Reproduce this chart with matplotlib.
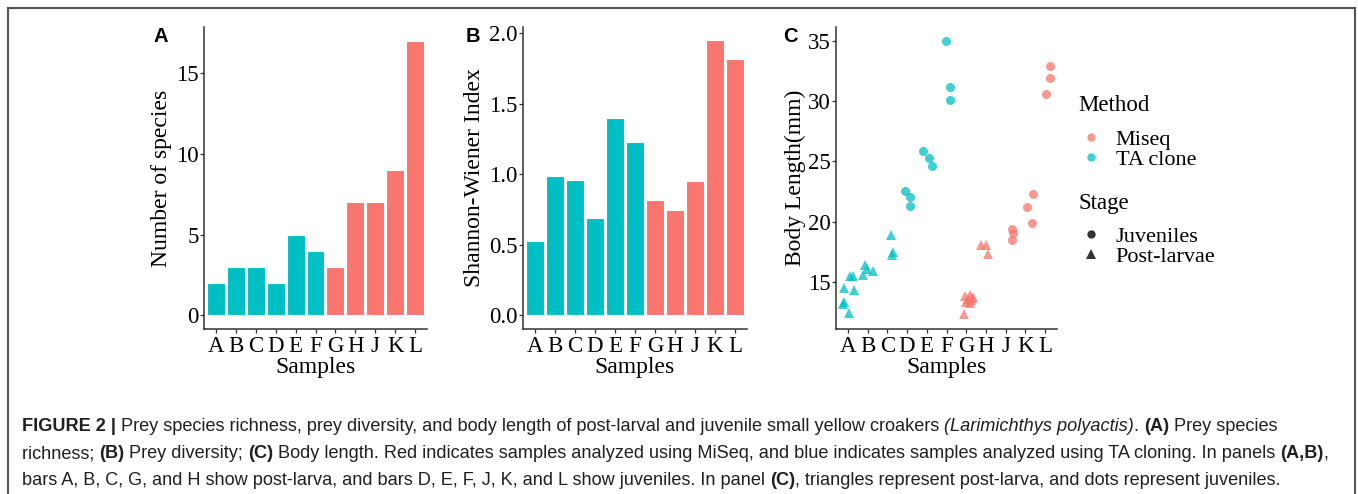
import matplotlib
matplotlib.use("Agg")
import matplotlib.pyplot as plt
from matplotlib.lines import Line2D
import numpy as np

# ---- data ----
samples = ['A', 'B', 'C', 'D', 'E', 'F', 'G', 'H', 'J', 'K', 'L']
richness = [2, 3, 3, 2, 5, 4, 3, 7, 7, 9, 17]
shannon = [0.53, 0.99, 0.96, 0.69, 1.40, 1.23, 0.82, 0.75, 0.95, 1.95, 1.82]
method = ['TA clone'] * 6 + ['Miseq'] * 5
stage = ['Post-larvae', 'Post-larvae', 'Post-larvae', 'Juveniles', 'Juveniles', 'Juveniles',
         'Post-larvae', 'Post-larvae', 'Juveniles', 'Juveniles', 'Juveniles']

# body length per fish (sample, horizontal jitter, length in mm)
bl_sample = (['A'] * 7 + ['B'] * 4 + ['C'] * 3 + ['D'] * 3 + ['E'] * 3 + ['F'] * 3
             + ['G'] * 9 + ['H'] * 3 + ['J'] * 3 + ['K'] * 3 + ['L'] * 3)
bl_jitter = [0.12, 0.26, -0.18, 0.32, -0.18, -0.22, 0.04,
             -0.12, -0.04, -0.21, 0.27,
             0.19, 0.27, 0.22,
             -0.10, 0.15, 0.15,
             -0.18, 0.13, 0.28,
             -0.05, 0.20, 0.19,
             -0.05, 0.18, 0.30, 0.10, -0.02, 0.20, 0.35, 0.25, -0.10,
             -0.23, -0.01, 0.11,
             0.34, 0.37, 0.34,
             0.10, 0.40, 0.31,
             0.26, 0.22, 0.05]
bl_length = [15.5, 15.5, 14.55, 14.36, 13.4, 13.2, 12.43,
             16.43, 16.08, 15.6, 15.93,
             18.92, 17.53, 17.26,
             22.58, 22.03, 21.34,
             25.87, 25.32, 24.63,
             35.0, 31.19, 30.09,
             13.9, 13.95, 13.7, 13.6, 13.4, 13.3, 13.75, 13.5, 12.37,
             18.09, 18.09, 17.34,
             19.39, 19.06, 18.48,
             21.21, 22.33, 19.93,
             32.93, 31.94, 30.59]

colors = {'Miseq': '#F8766D', 'TA clone': '#00BFC4'}
shapes = {'Juveniles': 'o', 'Post-larvae': '^'}

serif = ['Liberation Serif', 'DejaVu Serif']
plt.rcParams['font.family'] = serif

W, H = 1358, 494
fig = plt.figure(figsize=(W / 100, H / 100), dpi=100)


def px_axes(left, right, top, bottom):
    return fig.add_axes([left / W, 1 - bottom / H, (right - left) / W, (bottom - top) / H])


def style(ax, ylabel, ylab_x):
    for s in ['top', 'right']:
        ax.spines[s].set_visible(False)
    for s in ['left', 'bottom']:
        ax.spines[s].set_color('#333333')
        ax.spines[s].set_linewidth(1.1)
    ax.tick_params(axis='both', length=3, width=0.9, color='#333333',
                   labelsize=16.5, labelcolor='black')
    ax.tick_params(axis='y', pad=1)
    ax.tick_params(axis='x', pad=2)
    ax.set_xticks(range(len(samples)))
    ax.set_xticklabels(samples)
    ax.set_xlim(-0.6, len(samples) - 0.4)
    ax.set_xlabel('Samples', fontsize=17)
    ax.xaxis.set_label_coords(0.5, -0.128)
    ax.xaxis.label.set_va('center')
    ax.set_ylabel(ylabel, fontsize=17)
    ax.yaxis.set_label_coords(ylab_x, 0.5)
    ax.yaxis.label.set_va('center')


x = np.arange(len(samples))
bar_cols = [colors[m] for m in method]

# panel A
axA = px_axes(204, 427, 27, 329)
axA.bar(x, richness, width=0.9, color=bar_cols, edgecolor='white', linewidth=0.8)
axA.set_ylim(-0.85, 17.87)
axA.set_yticks([0, 5, 10, 15])
style(axA, 'Number of species', -0.19)

# panel B
axB = px_axes(523, 747, 27, 329)
axB.bar(x, shannon, width=0.9, color=bar_cols, edgecolor='white', linewidth=0.8)
axB.set_ylim(-0.097, 2.045)
axB.set_yticks([0, 0.5, 1.0, 1.5, 2.0])
axB.set_yticklabels(['0.0', '0.5', '1.0', '1.5', '2.0'])
style(axB, 'Shannon-Wiener Index', -0.216)

# panel C
axC = px_axes(836, 1057, 27, 329)
idx = {s: i for i, s in enumerate(samples)}
for s, j, v in zip(bl_sample, bl_jitter, bl_length):
    i = idx[s]
    mk = shapes[stage[i]]
    axC.plot(i + j, v, marker=mk, linestyle='none', color=colors[method[i]],
             alpha=0.75, markersize=7.5 if mk == '^' else 6.5, markeredgewidth=0)
axC.set_ylim(11.13, 36.13)
axC.set_yticks([15, 20, 25, 30, 35])
style(axC, 'Body Length(mm)', -0.184)

# panel letters
for lx, lab in [(153, 'A'), (466, 'B'), (783, 'C')]:
    fig.text(lx / W, 1 - 36 / H, lab, fontsize=14.5, fontweight='bold',
             family=['Liberation Sans', 'DejaVu Sans'], va='center', ha='left')

# legends: titles as text, keys as legends
fig.text(1078 / W, 1 - 105 / H, 'Method', fontsize=16.5, va='center', ha='left')
fig.text(1078 / W, 1 - 203 / H, 'Stage', fontsize=16.5, va='center', ha='left')
m_handles = [Line2D([], [], marker='o', linestyle='none', color=colors[m], alpha=0.75,
                    markersize=6, markeredgewidth=0) for m in ['Miseq', 'TA clone']]
fig.legend(m_handles, ['Miseq', 'TA clone'], loc='upper left',
           bbox_to_anchor=(1080 / W, 1 - 129 / H), frameon=False, fontsize=16,
           borderpad=0, borderaxespad=0, labelspacing=0.0,
           handlelength=1.0, handletextpad=0.6)
s_handles = [Line2D([], [], marker=shapes[s], linestyle='none', color='#333333',
                    markersize=6.5 if s == 'Post-larvae' else 6, markeredgewidth=0)
             for s in ['Juveniles', 'Post-larvae']]
fig.legend(s_handles, ['Juveniles', 'Post-larvae'], loc='upper left',
           bbox_to_anchor=(1080 / W, 1 - 226 / H), frameon=False, fontsize=16,
           borderpad=0, borderaxespad=0, labelspacing=0.0,
           handlelength=1.0, handletextpad=0.6)

# border (open at the bottom)
for xs, ys in [([8, 8], [H, 8.5]), ([8, 1355], [8.5, 8.5]), ([1355, 1355], [8.5, H])]:
    fig.add_artist(Line2D([v / W for v in xs], [1 - v / H for v in ys],
                          color='#555555', linewidth=1.5))

# caption with mixed styles
cap_font = ['Liberation Sans Narrow', 'Liberation Sans', 'DejaVu Sans']
cap_size = 13.1
cap_color = '#231f20'
caption = [
    [('FIGURE 2 | ', 'bold', 'normal'),
     ('Prey species richness, prey diversity, and body length of post-larval and juvenile small yellow croakers ', 'normal', 'normal'),
     ('(Larimichthys polyactis)', 'normal', 'italic'),
     ('. ', 'normal', 'normal'), ('(A)', 'bold', 'normal'), (' Prey species', 'normal', 'normal')],
    [('richness; ', 'normal', 'normal'), ('(B)', 'bold', 'normal'),
     (' Prey diversity; ', 'normal', 'normal'), ('(C)', 'bold', 'normal'),
     (' Body length. Red indicates samples analyzed using MiSeq, and blue indicates samples analyzed using TA cloning. In panels ', 'normal', 'normal'),
     ('(A,B)', 'bold', 'normal'), (',', 'normal', 'normal')],
    [('bars A, B, C, G, and H show post-larva, and bars D, E, F, J, K, and L show juveniles. In panel ', 'normal', 'normal'),
     ('(C)', 'bold', 'normal'),
     (', triangles represent post-larva, and dots represent juveniles.', 'normal', 'normal')],
]
baselines = [431, 458, 485]
renderer = fig.canvas.get_renderer()
for line, yb in zip(caption, baselines):
    xpos = 22
    for txt, wt, st in line:
        t = fig.text(xpos / W, 1 - yb / H, txt, fontsize=cap_size, fontweight=wt,
                     fontstyle=st, family=cap_font, color=cap_color,
                     va='baseline', ha='left')
        bb = t.get_window_extent(renderer=renderer)
        xpos += bb.width

fig.savefig('out.png', dpi=100)
